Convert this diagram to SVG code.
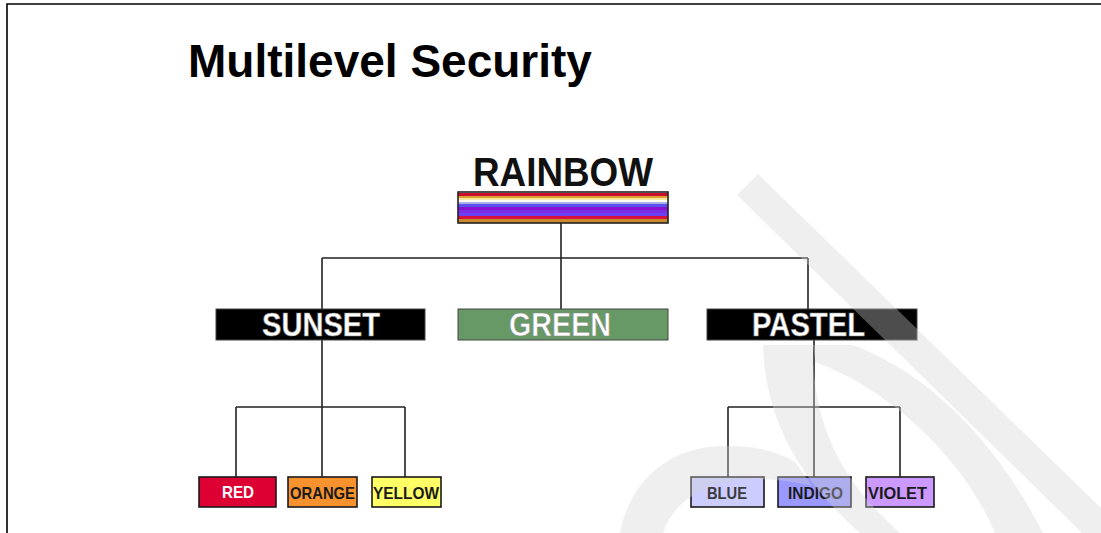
<svg xmlns="http://www.w3.org/2000/svg" width="1101" height="533" viewBox="0 0 1101 533">
  <style>
    .frame { stroke: #000; stroke-width: 1.6; fill: none; }
    .title { font-family: "Liberation Sans", Arial, sans-serif; font-weight: bold; font-size: 46px; fill: #000; }
    .head { font-family: "Liberation Sans", Arial, sans-serif; font-weight: bold; font-size: 40px; fill: #111; }
    .mid rect { stroke: #444; stroke-width: 1; }
    .mid text { font-family: "Liberation Sans", Arial, sans-serif; font-weight: bold; font-size: 33px; fill: #fff; stroke: #888; stroke-width: 0.6; text-anchor: middle; }
    .leaf rect { stroke: #1a1a1a; stroke-width: 1.6; }
    .leaf text { font-family: "Liberation Sans", Arial, sans-serif; font-weight: bold; font-size: 17px; fill: #1a1a1a; text-anchor: middle; }
    .conn path { stroke: #222; stroke-width: 1.6; fill: none; }
    .wm { fill: #d3d3d3; fill-opacity: 0.365; }
  </style>

  <!-- page frame -->
  <path class="frame" d="M7,533 V4 H1101"/>

  <text class="title" x="188" y="77">Multilevel Security</text>

  <!-- connectors -->
  <g id="connectors" class="conn">
    <path d="M561,223 V258 M322,258 H808 M322,258 V309 M561,258 V309 M808,258 V309"/>
    <path d="M322,340 V407 M236,407 H405 M236,407 V477 M322,407 V477 M405,407 V477"/>
    <path d="M814,340 V407 M728,407 H900 M728,407 V477 M814,407 V477 M900,407 V477"/>
  </g>

  <!-- top level -->
  <g id="rainbow">
    <text class="head" x="473" y="186" textLength="180" lengthAdjust="spacingAndGlyphs">RAINBOW</text>
    <rect x="458" y="193" width="210" height="3" fill="#c8102e"/>
    <rect x="458" y="196" width="210" height="2" fill="#e0a030"/>
    <rect x="458" y="198" width="210" height="2" fill="#f5e6a0"/>
    <rect x="458" y="200" width="210" height="2" fill="#fffaf0"/>
    <rect x="458" y="202" width="210" height="2" fill="#a8b0e8"/>
    <rect x="458" y="204" width="210" height="3" fill="#5a50f0"/>
    <rect x="458" y="207" width="210" height="3" fill="#8a10d0"/>
    <rect x="458" y="210" width="210" height="3" fill="#7b2ee8"/>
    <rect x="458" y="213" width="210" height="3" fill="#6a40f5"/>
    <rect x="458" y="216" width="210" height="3" fill="#d8103c"/>
    <rect x="458" y="219" width="210" height="4" fill="#c8882c"/>
    <rect x="458" y="192" width="210" height="31" fill="none" stroke="#222" stroke-width="1.6"/>
  </g>

  <!-- second level -->
  <g id="sunset" class="mid">
    <rect x="216" y="309" width="209" height="31" fill="#000"/>
    <text x="321" y="336" textLength="118" lengthAdjust="spacingAndGlyphs">SUNSET</text>
  </g>
  <g id="green" class="mid">
    <rect x="458" y="309" width="210" height="31" fill="#669966"/>
    <text x="560" y="336" textLength="102" lengthAdjust="spacingAndGlyphs">GREEN</text>
  </g>
  <g id="pastel" class="mid">
    <rect x="707" y="309" width="210" height="31" fill="#000"/>
    <text x="808.5" y="336" textLength="113" lengthAdjust="spacingAndGlyphs">PASTEL</text>
  </g>

  <!-- third level -->
  <g id="red" class="leaf">
    <rect x="199" y="477" width="77" height="30" fill="#dd0033"/>
    <text x="238" y="498" textLength="32" lengthAdjust="spacingAndGlyphs" style="fill:#fff">RED</text>
  </g>
  <g id="orange" class="leaf">
    <rect x="288" y="477" width="69" height="30" fill="#f7922e"/>
    <text x="322.5" y="498.5" textLength="65" lengthAdjust="spacingAndGlyphs">ORANGE</text>
  </g>
  <g id="yellow" class="leaf">
    <rect x="372" y="477" width="69" height="30" fill="#ffff66"/>
    <text x="406" y="498.5" textLength="66" lengthAdjust="spacingAndGlyphs">YELLOW</text>
  </g>
  <g id="blue" class="leaf">
    <rect x="691" y="477" width="73" height="30" fill="#ccccff"/>
    <text x="727" y="498.5" textLength="40" lengthAdjust="spacingAndGlyphs" style="fill:#3a3a3a">BLUE</text>
  </g>
  <g id="indigo" class="leaf">
    <rect x="778" y="477" width="73" height="30" fill="#9999ff"/>
    <text x="815.5" y="498.5" textLength="55" lengthAdjust="spacingAndGlyphs">INDIGO</text>
  </g>
  <g id="violet" class="leaf">
    <rect x="866" y="477" width="68" height="30" fill="#cc99ff"/>
    <text x="897.5" y="498.5" textLength="59" lengthAdjust="spacingAndGlyphs">VIOLET</text>
  </g>

  <!-- light backdrop emblem laid over the page: one slash and three sweeping strokes -->
  <path class="wm" d="M737,195 L758,174 L1101,508 L1101,533 L1082,533 Z
    M813,345 L853,345 C920,370 990,430 1043,533 L995,533 C960,450 880,385 815,362 Z
    M763,345 L813,345 C812,420 838,478 900,533 L860,533 C800,480 765,420 763,345 Z
    M620,533 C630,480 670,446 725,446 C755,446 775,450 795,462 L812,486 C790,480 760,478 740,480 C700,484 672,505 663,533 Z"/>
</svg>
